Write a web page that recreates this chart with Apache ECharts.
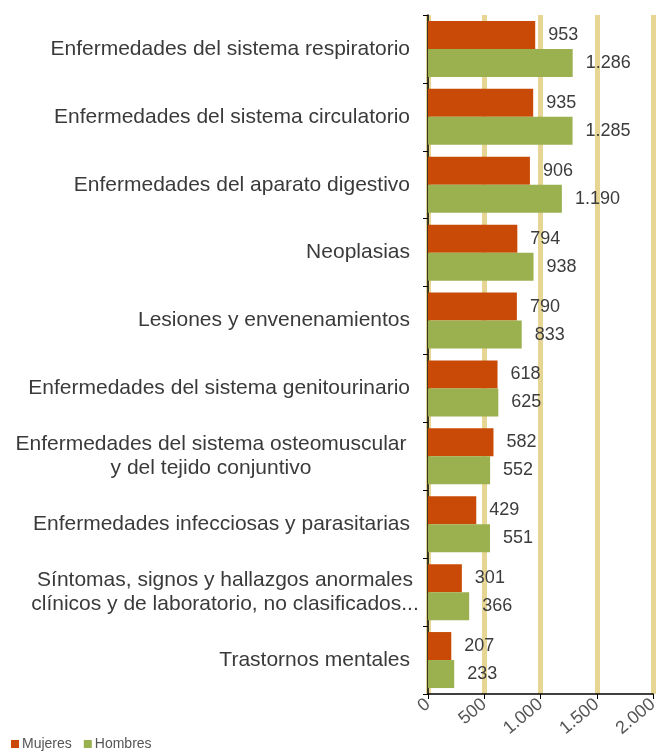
<!DOCTYPE html>
<html>
<head>
<meta charset="utf-8">
<script src="https://cdn.jsdelivr.net/npm/echarts@6/dist/echarts.min.js"></script>
<style>
  html, body { margin: 0; padding: 0; background: #fff; }
  #chart { width: 656px; height: 756px; }
</style>
</head>
<body>
<div id="chart"></div>
<script>
const categories = [
  'Enfermedades del sistema respiratorio',
  'Enfermedades del sistema circulatorio',
  'Enfermedades del aparato digestivo',
  'Neoplasias',
  'Lesiones y envenenamientos',
  'Enfermedades del sistema genitourinario',
  'Enfermedades del sistema osteomuscular\ny del tejido conjuntivo',
  'Enfermedades infecciosas y parasitarias',
  'Síntomas, signos y hallazgos anormales\nclínicos y de laboratorio, no clasificados...',
  'Trastornos mentales'
]
const mujeres = [953, 935, 906, 794, 790, 618, 582, 429, 301, 207]
const hombres = [1286, 1285, 1190, 938, 833, 625, 552, 551, 366, 233]

// 1286 -> "1.286"
const fmt = v => String(v).replace(/\B(?=(\d{3})+(?!\d))/g, '.')

const chart = echarts.init(document.getElementById('chart'))

const labelStyle = {
  show: true,
  position: 'right',
  distance: 13,
  fontSize: 18,
  color: '#3c3c3c',
  formatter: p => fmt(p.value)
}

const option = {
  animation: false,
  textStyle: { fontFamily: 'Liberation Sans, Arial, sans-serif' },
  grid: { left: 428, right: 3, top: 15, bottom: 62, outerBoundsMode: 'none' },
  legend: {
    left: 6,
    bottom: 0,
    itemWidth: 8,
    itemHeight: 8,
    itemGap: 12,
    icon: 'rect',
    textStyle: { fontSize: 14, color: '#555', padding: [0, 0, 0, -2] },
    data: ['Mujeres', 'Hombres']
  },
  xAxis: {
    type: 'value',
    min: 0,
    max: 2000,
    interval: 500,
    axisLine: { show: true, lineStyle: { color: '#000', width: 1.5 } },
    axisTick: { show: true, length: 5, lineStyle: { color: '#000' } },
    splitLine: { show: true, lineStyle: { color: '#e6d593', width: 5 } },
    axisLabel: {
      rotate: 40,
      fontSize: 18,
      color: '#555',
      margin: 8,
      formatter: v => fmt(v)
    }
  },
  yAxis: {
    type: 'category',
    inverse: true,
    data: categories,
    axisLine: { show: true, lineStyle: { color: '#000', width: 1.5 } },
    axisTick: { show: true, length: 5, lineStyle: { color: '#000' } },
    axisLabel: {
      margin: 18,
      fontSize: 21,
      color: '#3a3a3a',
      lineHeight: 24,
      formatter: v => {
        if (v.indexOf('\n') < 0) return v
        const style = v.indexOf('Síntomas') === 0 ? 's' : 'c'
        return v.split('\n').map(l => '{' + style + '|' + l + '}').join('\n')
      },
      rich: {
        c: { width: 398, align: 'center', fontSize: 21, lineHeight: 24, color: '#3a3a3a' },
        s: { width: 370, align: 'center', fontSize: 21, lineHeight: 24, color: '#3a3a3a' }
      }
    }
  },
  series: [
    {
      name: 'Mujeres',
      type: 'bar',
      data: mujeres,
      barWidth: 28,
      barGap: '0%',
      itemStyle: { color: '#c84a06' },
      label: labelStyle
    },
    {
      name: 'Hombres',
      type: 'bar',
      data: hombres,
      barWidth: 28,
      itemStyle: { color: '#9bb04f' },
      label: labelStyle
    }
  ]
}

chart.setOption(option)
</script>
</body>
</html>
